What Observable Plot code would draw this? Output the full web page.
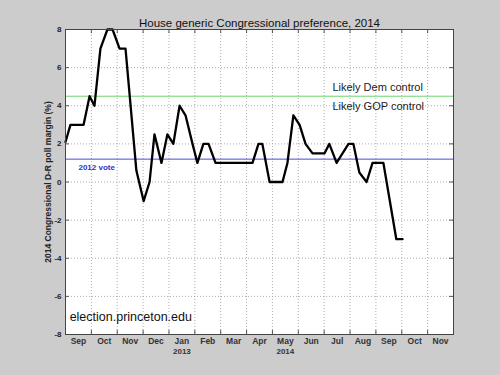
<!DOCTYPE html>
<html>
<head>
<meta charset="utf-8">
<script src="https://cdn.jsdelivr.net/npm/d3@7"></script>
<script src="https://cdn.jsdelivr.net/npm/@observablehq/plot@0.6"></script>
<style>
  html, body { margin: 0; padding: 0; background: #cccccc; }
  #chart { width: 500px; height: 375px; }
  svg { display: block; }
</style>
</head>
<body>
<div id="chart"></div>
<script>
// Months since 1 Sep (x) and D-R poll margin (%)
const monthPos = [0,0.19,0.70,0.93,1.12,1.35,1.62,1.82,2.09,2.32,2.74,3.02,3.25,3.44,3.71,3.94,4.17,4.41,4.64,4.91,5.10,5.33,5.53,5.80,7.23,7.46,7.61,7.89,8.39,8.58,8.81,9.05,9.28,9.55,10.01,10.20,10.48,10.94,11.13,11.36,11.64,11.87,12.29,12.79,13.03];
const margin = [2.1,3,3,4.5,4,7,8,8,7,7,0.6,-1,0,2.5,1,2.5,2,4,3.5,2,1,2,2,1,1,2,2,0,0,1,3.5,3,2,1.5,1.5,2,1,2,2,0.5,0,1,1,-3,-3];

const monthLabels = ["Sep","Oct","Nov","Dec","Jan","Feb","Mar","Apr","May","Jun","Jul","Aug","Sep","Oct","Nov"];
const yearLabels = ["2013","2014"];
const yearMonthIndex = [4, 8];
const yTicks = [-8,-6,-4,-2,0,2,4,6,8];

const demThreshold = 4.5;
const vote2012 = 1.2;
const thresholdLabels = ["Likely Dem control","Likely GOP control"];

const title = "House generic Congressional preference, 2014";
const yLabel = "2014 Congressional D-R poll margin (%)";
const credit = "election.princeton.edu";

const data = monthPos.map((m, i) => ({m, v: margin[i]}));
const labelCenters = monthLabels.map((_, i) => i + 0.5);
const monthBounds = d3.range(1, monthLabels.length);
const font = "'Liberation Sans', Arial, Helvetica, sans-serif";

const chart = Plot.plot({
  width: 500,
  height: 375,
  marginLeft: 65,
  marginRight: 47,
  marginTop: 29,
  marginBottom: 41,
  style: {background: "transparent", fontFamily: font, color: "#222"},
  x: {domain: [0, monthLabels.length], axis: null},
  y: {domain: [-8, 8], axis: null},
  marks: [
    Plot.frame({fill: "white", stroke: null}),
    Plot.gridX(monthBounds, {stroke: "#999", strokeOpacity: 0.8, strokeDasharray: "1,2"}),
    Plot.gridY(yTicks.slice(1, -1), {stroke: "#999", strokeOpacity: 0.8, strokeDasharray: "1,2"}),
    // inward tick marks
    Plot.ruleX(monthBounds, {x: d => d, y1: -8, y2: -7.78, stroke: "#555"}),
    Plot.ruleX(monthBounds, {x: d => d, y1: 8, y2: 7.78, stroke: "#555"}),
    Plot.ruleY(yTicks, {y: d => d, x1: 0, x2: 0.15, stroke: "#555"}),
    Plot.ruleY(yTicks, {y: d => d, x1: 15, x2: 14.85, stroke: "#555"}),
    Plot.ruleY([demThreshold], {stroke: "#6cd46c", strokeWidth: 1}),
    Plot.ruleY([vote2012], {stroke: "#4848e0", strokeWidth: 1}),
    Plot.line(data, {x: "m", y: "v", stroke: "black", strokeWidth: 2.3, strokeLinejoin: "round"}),
    Plot.text([thresholdLabels[0]], {x: 10.32, y: 4.96, textAnchor: "start", fontSize: 11, fill: "#222"}),
    Plot.text([thresholdLabels[1]], {x: 10.32, y: 3.96, textAnchor: "start", fontSize: 11, fill: "#222"}),
    Plot.text(["2012 vote"], {x: 0.5, y: 0.76, textAnchor: "start", fontSize: 8, fontWeight: "bold", fill: "#3030d0"}),
    Plot.text([credit], {x: 0.16, y: -7.1, textAnchor: "start", fontSize: 12.5, fill: "#111"}),
    Plot.frame({stroke: "#444", strokeWidth: 1}),
    // axes
    Plot.text(yTicks, {y: d => d, text: d => String(d), frameAnchor: "left", textAnchor: "end", dx: -4, fontSize: 8, fontWeight: "bold", fill: "#222"}),
    Plot.text(labelCenters, {x: d => d, text: (d, i) => monthLabels[i], frameAnchor: "bottom", dy: 9, fontSize: 8.5, fontWeight: "bold", fill: "#333"}),
    Plot.text(yearMonthIndex, {x: d => d + 0.5, text: (d, i) => yearLabels[i], frameAnchor: "bottom", dy: 19, fontSize: 8, fontWeight: "bold", fill: "#333"}),
    Plot.text([yLabel], {frameAnchor: "left", textAnchor: "middle", rotate: -90, dx: -17, fontSize: 8.5, fontWeight: "bold", fill: "#222"}),
    Plot.text([title], {frameAnchor: "top", textAnchor: "middle", dy: -11, fontSize: 11.5, fill: "#111"})
  ]
});
document.getElementById("chart").appendChild(chart);
</script>
</body>
</html>
